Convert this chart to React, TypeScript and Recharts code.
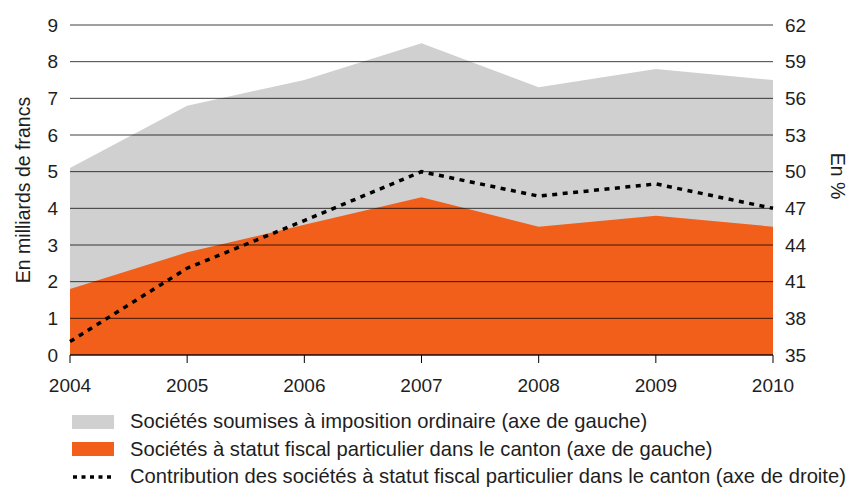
import { ComposedChart, Area, Line, XAxis, YAxis, CartesianGrid } from 'recharts'

const years = ['2004', '2005', '2006', '2007', '2008', '2009', '2010']
const ordinaire = [5.1, 6.8, 7.5, 8.5, 7.3, 7.8, 7.5]
const statutParticulier = [1.8, 2.8, 3.55, 4.3, 3.5, 3.8, 3.5]
const contribution = [36.1, 42.1, 46, 50, 48, 49, 47]
const leftTicks = [0, 1, 2, 3, 4, 5, 6, 7, 8, 9]
const rightTicks = [35, 38, 41, 44, 47, 50, 53, 56, 59, 62]

const FONT = '"Liberation Sans", Arial, sans-serif'
const GREY = '#d0d0d0'
const ORANGE = '#f15f1a'
const TEXT = '#1e1e1e'

const legendItems = [
    { kind: 'box', color: GREY, label: 'Sociétés soumises à imposition ordinaire (axe de gauche)' },
    { kind: 'box', color: ORANGE, label: 'Sociétés à statut fiscal particulier dans le canton (axe de gauche)' },
    { kind: 'dots', color: '#000', label: 'Contribution des sociétés à statut fiscal particulier dans le canton (axe de droite)' },
]

export default function App() {
    const chartData = years.map((year, i) => ({
        year,
        ordinaire: ordinaire[i],
        particulier: statutParticulier[i],
        contribution: contribution[i],
    }))

    const tickStyle = { fontSize: 19, fill: TEXT, fontFamily: FONT }

    return (
        <div style={{ position: 'absolute', left: 0, top: 0, width: 856, height: 489, background: '#fff', fontFamily: FONT }}>
            <ComposedChart width={856} height={400} data={chartData} margin={{ top: 25, right: 0, bottom: 0, left: 0 }}>
                <XAxis
                    dataKey="year"
                    scale="point"
                    padding={{ left: 0, right: 0 }}
                    interval={0}
                    height={45}
                    axisLine={{ stroke: '#000' }}
                    tickLine={{ stroke: '#000' }}
                    tickSize={8}
                    tickMargin={16}
                    tick={tickStyle}
                />
                <YAxis
                    yAxisId="left"
                    domain={[0, 9]}
                    ticks={leftTicks}
                    interval={0}
                    width={70}
                    axisLine={false}
                    tickLine={false}
                    tickSize={0}
                    tickMargin={12}
                    tick={tickStyle}
                    label={{
                        content: ({ viewBox }: any) => {
                            const x = viewBox.x + 23
                            const y = viewBox.y + viewBox.height / 2
                            return (
                                <text x={x} y={y} transform={`rotate(-90, ${x}, ${y})`} textAnchor="middle" dominantBaseline="central" fontSize={19.5} fill={TEXT} fontFamily={FONT}>
                                    En milliards de francs
                                </text>
                            )
                        },
                    }}
                />
                <YAxis
                    yAxisId="right"
                    orientation="right"
                    domain={[35, 62]}
                    ticks={rightTicks}
                    interval={0}
                    width={83}
                    axisLine={false}
                    tickLine={false}
                    tickSize={0}
                    tickMargin={12}
                    tick={tickStyle}
                    label={{
                        content: ({ viewBox }: any) => {
                            const x = viewBox.x + 65
                            const y = viewBox.y + viewBox.height / 2 - 14
                            return (
                                <text x={x} y={y} transform={`rotate(90, ${x}, ${y})`} textAnchor="middle" dominantBaseline="central" fontSize={19.5} fill={TEXT} fontFamily={FONT}>
                                    En %
                                </text>
                            )
                        },
                    }}
                />
                <Area
                    yAxisId="left"
                    type="linear"
                    dataKey="ordinaire"
                    fill={GREY}
                    fillOpacity={1}
                    stroke="none"
                    isAnimationActive={false}
                />
                <Area
                    yAxisId="left"
                    type="linear"
                    dataKey="particulier"
                    fill={ORANGE}
                    fillOpacity={1}
                    stroke="none"
                    isAnimationActive={false}
                />
                <CartesianGrid
                    yAxisId="left"
                    vertical={false}
                    stroke="#000"
                    strokeOpacity={0.75}
                    zIndex={150}
                />
                <Line
                    yAxisId="right"
                    type="linear"
                    dataKey="contribution"
                    stroke="#000"
                    strokeWidth={3.5}
                    strokeDasharray="5 5.5"
                    dot={false}
                    activeDot={false}
                    isAnimationActive={false}
                />
            </ComposedChart>
            <div style={{ position: 'absolute', left: 0, top: 408 }}>
                {legendItems.map((item) => (
                    <div key={item.label} style={{ display: 'flex', alignItems: 'center', height: 27.5, whiteSpace: 'nowrap' }}>
                        <div style={{ width: 72 }} />
                        {item.kind === 'box' ? (
                            <div style={{ width: 42, height: 14, background: item.color }} />
                        ) : (
                            <svg width={42} height={14}>
                                <line x1={1} y1={7} x2={42} y2={7} stroke={item.color} strokeWidth={3.5} strokeDasharray="4 4.5" />
                            </svg>
                        )}
                        <span style={{ marginLeft: 16, fontSize: 20.2, color: TEXT, fontFamily: FONT }}>{item.label}</span>
                    </div>
                ))}
            </div>
        </div>
    )
}
